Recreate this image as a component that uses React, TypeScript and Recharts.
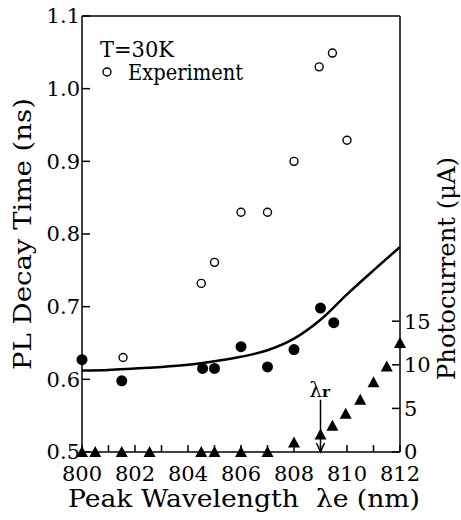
import {
  ComposedChart,
  Customized,
  Line,
  ReferenceLine,
  Scatter,
  XAxis,
  YAxis,
} from "recharts";

// open circles (experiment, left axis)
const experimentX = [801.55, 804.5, 805.0, 806.0, 807.0, 808.0, 808.95, 809.45, 810.0];
const experimentY = [0.63, 0.732, 0.761, 0.83, 0.83, 0.9, 1.03, 1.049, 0.929];

// filled circles (left axis)
const filledX = [800.0, 801.5, 804.55, 805.0, 806.0, 807.0, 808.0, 809.0, 809.5];
const filledY = [0.627, 0.598, 0.615, 0.615, 0.645, 0.617, 0.641, 0.698, 0.678];

// solid fitted curve (left axis)
const fitX = [800, 801, 802, 803, 804, 805, 806, 807, 808, 809, 810, 811, 812];
const fitY = [0.612, 0.613, 0.615, 0.617, 0.62, 0.625, 0.631, 0.64, 0.656, 0.682, 0.717, 0.75, 0.782];

// triangles (photocurrent, right axis)
const photoX = [800, 800.5, 801.5, 802.55, 804.5, 805, 806, 807, 808, 809, 809.45, 809.95, 810.5, 811, 811.5, 812];
const photoY = [0, 0, 0, 0, 0, 0, 0, 0, 1.1, 2.0, 3.0, 4.4, 6.0, 8.0, 9.8, 12.5];

const xTicks = [800, 801, 802, 803, 804, 805, 806, 807, 808, 809, 810, 811, 812];
const leftTicks = [0.5, 0.6, 0.7, 0.8, 0.9, 1.0, 1.1];
const rightTicks = [0, 5, 10, 15];
const lambdaR = 809;

const zip = (xs: number[], ys: number[]) => xs.map((x, i) => ({ x, y: ys[i] }));

const experiment = zip(experimentX, experimentY);
const filled = zip(filledX, filledY);
const fit = zip(fitX, fitY);
const photo = zip(photoX, photoY);

const FONT = "DejaVu Serif";
const tickStyle = { fill: "#000", fontSize: 21, fontFamily: FONT };

const OpenDot = (p: any) => (
  <circle cx={p.cx} cy={p.cy} r={4} fill="#fff" stroke="#000" strokeWidth={1.4} />
);
const FilledDot = (p: any) => <circle cx={p.cx} cy={p.cy} r={5.5} fill="#000" />;
const Triangle = (p: any) => (
  <polygon
    points={`${p.cx},${p.cy - 6} ${p.cx - 6},${p.cy + 5} ${p.cx + 6},${p.cy + 5}`}
    fill="#000"
  />
);

// only even wavelengths get a label, odd ones keep just the tick line
const XTick = (p: any) => {
  const v = p.payload.value;
  if (v % 2 !== 0) return <g />;
  return (
    <text x={p.x} y={p.y} dy={31} textAnchor="middle" fontFamily={FONT} fontSize={21} fill="#000">
      {v}
    </text>
  );
};

const ArrowMark = (p: any) => (
  <g>
    <line x1={p.x1} y1={p.y1} x2={p.x2} y2={p.y2} stroke="#000" strokeWidth={1.5} />
    <polyline
      points={`${p.x2 - 4},${p.y2 - 9} ${p.x2},${p.y2} ${p.x2 + 4},${p.y2 - 9}`}
      fill="none"
      stroke="#000"
      strokeWidth={1.5}
    />
    <text x={p.x1 - 1} y={p.y1 - 3} textAnchor="middle" fontFamily={FONT} fontSize={20}>
      λ<tspan fontSize={15} fontWeight="bold">r</tspan>
    </text>
  </g>
);

const Annotations = () => (
  <g fontFamily={FONT} fill="#000">
    <text x={100} y={57} fontSize={22} textLength={74} lengthAdjust="spacingAndGlyphs">
      T=30K
    </text>
    <circle cx={107} cy={72} r={4} fill="#fff" stroke="#000" strokeWidth={1.4} />
    <text x={128} y={80} fontSize={22} textLength={115} lengthAdjust="spacingAndGlyphs">
      Experiment
    </text>
    <text
      transform="translate(31,370) rotate(-90)"
      fontSize={25}
      textLength={272}
      lengthAdjust="spacingAndGlyphs"
    >
      PL Decay Time (ns)
    </text>
    <text
      transform="translate(455,380) rotate(-90)"
      fontSize={24}
      textLength={223}
      lengthAdjust="spacingAndGlyphs"
    >
      Photocurrent (μA)
    </text>
    <text
      x={68}
      y={507}
      fontSize={25}
      textLength={352}
      lengthAdjust="spacingAndGlyphs"
      style={{ whiteSpace: "pre" }}
    >
      {"Peak Wavelength  λe (nm)"}
    </text>
  </g>
);

export default function App() {
  return (
    <div style={{ position: "absolute", left: 0, top: 0, width: 461, height: 520, background: "#fff" }}>
      <ComposedChart
        width={461}
        height={520}
        margin={{ top: 16, right: 0, bottom: 0, left: 0 }}
      >
        <XAxis
          dataKey="x"
          type="number"
          domain={[800, 812]}
          ticks={xTicks}
          interval={0}
          height={68}
          stroke="#000"
          strokeWidth={1.5}
          tickSize={-7}
          tickMargin={5}
          tick={XTick}
        />
        <YAxis
          yAxisId="left"
          type="number"
          domain={[0.5, 1.1]}
          ticks={leftTicks}
          interval={0}
          tickFormatter={(v: number) => v.toFixed(1)}
          width={82}
          stroke="#000"
          strokeWidth={1.5}
          tickSize={-8}
          tickMargin={10}
          tick={tickStyle}
        />
        <YAxis
          yAxisId="right"
          orientation="right"
          type="number"
          domain={[0, 50]}
          ticks={rightTicks}
          interval={0}
          width={61}
          stroke="#000"
          strokeWidth={1.5}
          tickSize={-8}
          tickMargin={12}
          tick={tickStyle}
        />
        <ReferenceLine yAxisId="left" y={1.1} stroke="#000" strokeWidth={1.5} />
        <Line
          yAxisId="left"
          data={fit}
          dataKey="y"
          type="monotone"
          stroke="#000"
          strokeWidth={2.5}
          dot={false}
          isAnimationActive={false}
        />
        <Scatter yAxisId="left" data={experiment} dataKey="y" shape={OpenDot} isAnimationActive={false} />
        <Scatter yAxisId="left" data={filled} dataKey="y" shape={FilledDot} isAnimationActive={false} />
        <Scatter yAxisId="right" data={photo} dataKey="y" shape={Triangle} isAnimationActive={false} />
        <ReferenceLine
          yAxisId="right"
          segment={[
            { x: lambdaR, y: 6 },
            { x: lambdaR, y: 0 },
          ]}
          shape={ArrowMark}
        />
        <Customized component={Annotations} />
      </ComposedChart>
    </div>
  );
}
